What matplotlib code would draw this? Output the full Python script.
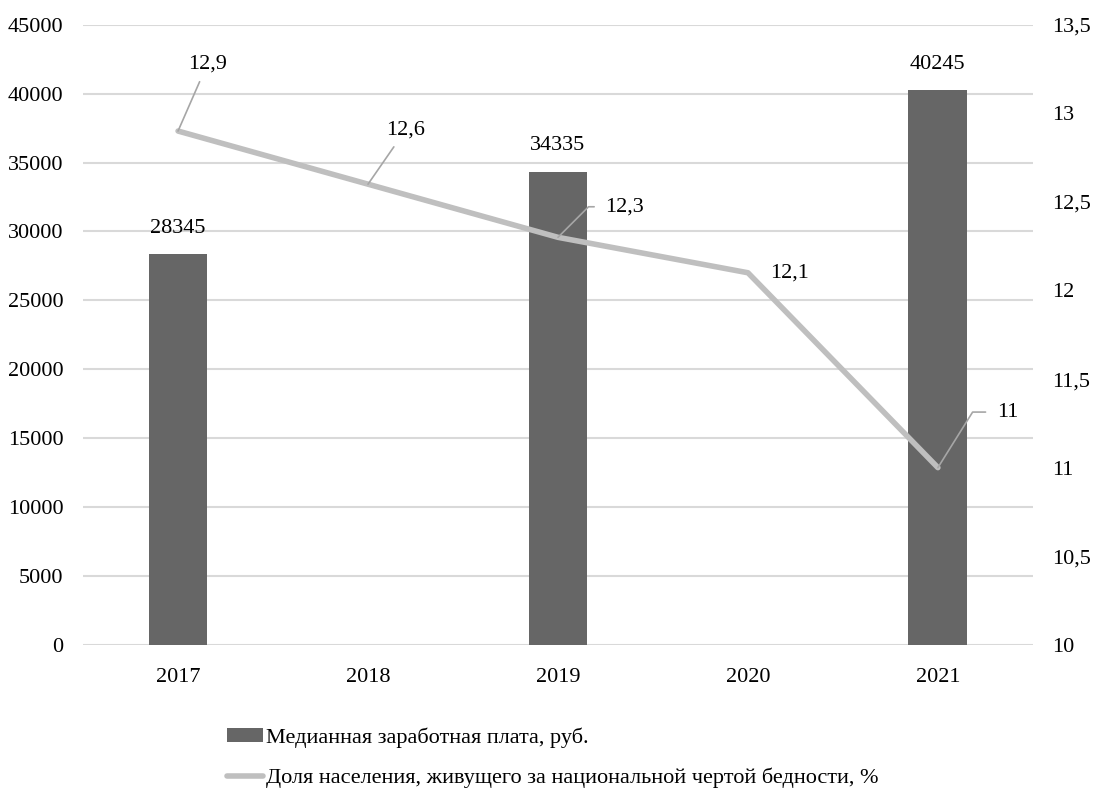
import matplotlib.pyplot as plt
import numpy as np

years = ['2017', '2018', '2019', '2020', '2021']
salary = [28345, np.nan, 34335, np.nan, 40245]
poverty = [12.9, 12.6, 12.3, 12.1, 11.0]
poverty_labels = ['12,9', '12,6', '12,3', '12,1', '11']

salary_name = 'Медианная заработная плата, руб.'
poverty_name = 'Доля населения, живущего за национальной чертой бедности, %'

plt.rcParams['font.family'] = ['Liberation Serif', 'DejaVu Serif']
plt.rcParams['font.size'] = 16

bar_color = '#666666'
line_color = '#bfbfbf'
grid_color = '#d9d9d9'
leader_color = '#a6a6a6'

fig = plt.figure(figsize=(10.93, 7.98), dpi=100)
ax = fig.add_axes([0.076, 0.192, 0.869, 0.777])
ax2 = ax.twinx()

x = np.arange(len(years))
bars = ax.bar(x, salary, width=0.31, color=bar_color, zorder=2, label=salary_name)
ax.set_ylim(0, 45000)
ax.set_yticks(np.arange(0, 45001, 5000))
ax.set_xlim(-0.5, 4.5)
ax.set_xticks(x)
ax.set_xticklabels(years)
ax.grid(axis='y', color=grid_color, linewidth=1.5, zorder=0)
ax.set_axisbelow(True)

for xi, v in zip(x, salary):
    if not np.isnan(v):
        ax.annotate(str(v), (xi, v), xytext=(0, 12), textcoords='offset points',
                    ha='center', va='bottom')

line, = ax2.plot(x, poverty, color=line_color, linewidth=4, zorder=3,
                 solid_capstyle='round', label=poverty_name)
ax2.set_ylim(10, 13.5)
ax2.set_yticks(np.arange(10, 13.51, 0.5))
ax2.set_yticklabels(['10', '10,5', '11', '11,5', '12', '12,5', '13', '13,5'])

# data labels for the line; leader: None, straight, or elbow (angle of slanted part)
offsets = [(21, 48), (27, 39), (48, 22), (30, 0), (50, 40)]
leaders = ['straight', 'straight', 45, None, 58]
for xi, v, lab, off, ld in zip(x, poverty, poverty_labels, offsets, leaders):
    if ld is None:
        ax2.annotate(lab, (xi, v), xytext=off, textcoords='offset points',
                     ha='center', va='center')
    elif ld == 'straight':
        ax2.annotate(lab, (xi, v), xytext=off, textcoords='offset points',
                     ha='center', va='center',
                     arrowprops=dict(arrowstyle='-', color=leader_color, lw=1.2,
                                     shrinkA=4, shrinkB=0))
    else:
        ax2.annotate(lab, (xi, v), xytext=off, textcoords='offset points',
                     ha='center', va='center',
                     arrowprops=dict(arrowstyle='-', color=leader_color, lw=1.2,
                                     shrinkA=6, shrinkB=0,
                                     connectionstyle='angle,angleA=180,angleB=%d,rad=0' % ld))

for a in (ax, ax2):
    for s in a.spines.values():
        s.set_visible(False)
    a.tick_params(length=0)
ax.tick_params(axis='y', pad=14)
ax.tick_params(axis='x', pad=17)
ax2.tick_params(axis='y', pad=14)

fig.legend(handles=[bars, line], loc='upper left', bbox_to_anchor=(0.2, 0.1),
           frameon=False, handlelength=1.6, handleheight=0.6, handletextpad=0.15,
           labelspacing=0.9, borderaxespad=0)

fig.savefig('out.png', dpi=100)
